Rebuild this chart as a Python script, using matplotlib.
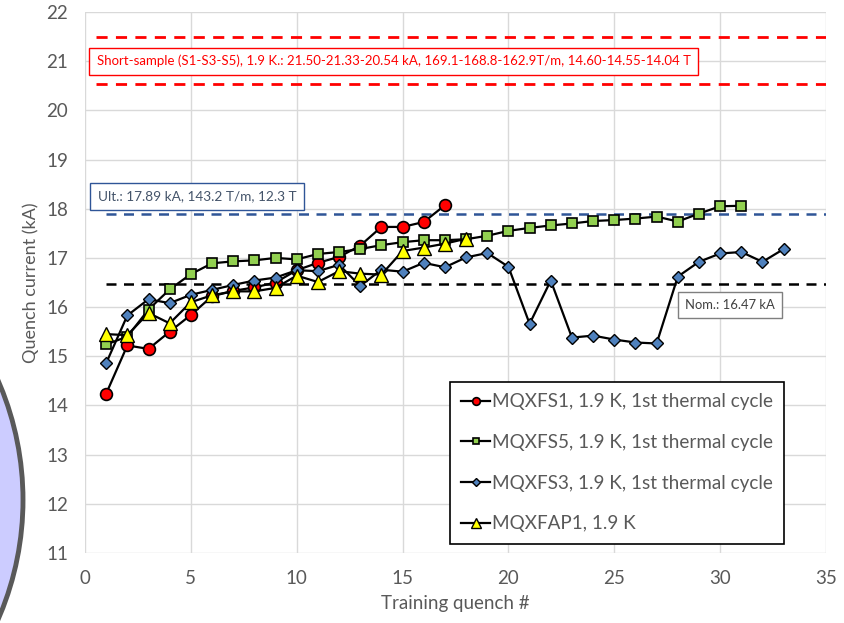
import matplotlib
matplotlib.use("Agg")
import matplotlib.pyplot as plt
from matplotlib.patches import Ellipse

plt.rcParams['font.family'] = ['Lato', 'DejaVu Sans']

# ---- data ----
s1_x = list(range(1, 18))
s1_y = [14.24, 15.22, 15.15, 15.50, 15.84, 16.22, 16.33, 16.40, 16.50, 16.75,
        16.90, 17.02, 17.25, 17.63, 17.63, 17.73, 18.07]

s5_x = list(range(1, 32))
s5_y = [15.24, 15.40, 15.95, 16.36, 16.67, 16.89, 16.93, 16.95, 17.00, 16.97,
        17.08, 17.12, 17.18, 17.26, 17.32, 17.36, 17.36, 17.38, 17.45, 17.55,
        17.61, 17.66, 17.70, 17.75, 17.77, 17.80, 17.84, 17.74, 17.90, 18.05, 18.06]

s3_x = list(range(1, 34))
s3_y = [14.86, 15.83, 16.16, 16.08, 16.25, 16.35, 16.45, 16.54, 16.60, 16.75,
        16.73, 16.86, 16.43, 16.76, 16.72, 16.90, 16.81, 17.01, 17.10, 16.82,
        15.66, 16.54, 15.38, 15.42, 15.34, 15.28, 15.26, 16.62, 16.92, 17.09,
        17.12, 16.92, 17.18]

ap1_x = list(range(1, 19))
ap1_y = [15.45, 15.43, 15.88, 15.67, 16.10, 16.24, 16.32, 16.32, 16.39, 16.64,
         16.51, 16.73, 16.68, 16.66, 17.14, 17.21, 17.29, 17.39]

short_sample = [21.50, 20.54]
ultimate = 17.89
nominal = 16.47

labels = ["MQXFS1, 1.9 K, 1st thermal cycle",
          "MQXFS5, 1.9 K, 1st thermal cycle",
          "MQXFS3, 1.9 K, 1st thermal cycle",
          "MQXFAP1, 1.9 K"]

# ---- figure ----
fig = plt.figure(figsize=(8.44, 6.23), dpi=100)
ax = fig.add_axes([85/844, 1-553/623, (826-85)/844, (553-12)/623])

grid_c = '#D9D9D9'
txt_c = '#595959'

ax.set_xlim(0, 35)
ax.set_ylim(11, 22)
ax.set_xticks(range(0, 36, 5))
ax.set_yticks(range(11, 23))
ax.grid(True, color=grid_c, lw=1)
ax.set_axisbelow(True)
for sp in ax.spines.values():
    sp.set_visible(False)
ax.tick_params(length=0, labelsize=13.5, colors=txt_c, pad=12)
ax.set_xlabel("Training quench #", fontsize=13.5, color=txt_c, labelpad=6)
ax.set_ylabel("Quench current (kA)", fontsize=13, color=txt_c, labelpad=5)

# reference lines
dash = (0, (4, 3))
for v in short_sample:
    ax.plot([0.5, 35], [v, v], color='#FF0000', lw=2, ls=dash, zorder=2)
ax.plot([1, 35], [ultimate, ultimate], color='#2F5597', lw=1.8, ls=dash, zorder=2)
ax.plot([1, 35], [nominal, nominal], color='black', lw=1.8, ls=dash, zorder=2)

lw = 1.6
h1, = ax.plot(s1_x, s1_y, color='black', lw=lw, marker='o', ms=8.5,
              mfc='#FF0000', mec='black', mew=1.2, zorder=3)
h2, = ax.plot(s5_x, s5_y, color='black', lw=lw, marker='s', ms=7.5,
              mfc='#92D050', mec='black', mew=1.2, zorder=4)
h3, = ax.plot(s3_x, s3_y, color='black', lw=lw, marker='D', ms=6,
              mfc='#4F81BD', mec='black', mew=1.0, zorder=5)
h4, = ax.plot(ap1_x, ap1_y, color='black', lw=lw, marker='^', ms=10,
              mfc='#FFFF00', mec='black', mew=1.0, zorder=6)

# annotation boxes
ax.text(0.55, 21.0,
        "Short-sample (S1-S3-S5), 1.9 K.: 21.50-21.33-20.54 kA, 169.1-168.8-162.9T/m, 14.60-14.55-14.04 T",
        color='#FF0000', fontsize=9.5, va='center', ha='left', zorder=7,
        bbox=dict(boxstyle='square,pad=0.55', fc='white', ec='#FF0000', lw=1))
ax.text(0.6, 18.25, "Ult.: 17.89 kA, 143.2 T/m, 12.3 T",
        color='#44546A', fontsize=9.8, va='center', ha='left', zorder=7,
        bbox=dict(boxstyle='square,pad=0.55', fc='white', ec='#2F5597', lw=1))
ax.text(28.35, 16.04, "Nom.: 16.47 kA",
        color='#404040', fontsize=9.4, va='center', ha='left', zorder=7,
        bbox=dict(boxstyle='square,pad=0.55', fc='white', ec='#7F7F7F', lw=1))

leg = fig.legend([h1, h2, h3, h4], labels,
                 loc='upper left', bbox_to_anchor=(450/844, 1-382/623),
                 borderaxespad=0,
                 fontsize=13.6, frameon=True, fancybox=False, framealpha=1,
                 edgecolor='black', handlelength=1.5, handletextpad=0.1,
                 labelspacing=1.25, borderpad=0.6, markerscale=0.65, labelcolor=txt_c)
leg.get_frame().set_linewidth(1.2)

# slide decoration: partial circle at lower-left
ell = Ellipse((-276/844, 1-500/623), 2*299/844, 2*299/623, transform=fig.transFigure,
              fc='#CCCCFF', ec='#595959', lw=3.5, zorder=10)
fig.patches.append(ell)

fig.savefig("out.png", dpi=100)
